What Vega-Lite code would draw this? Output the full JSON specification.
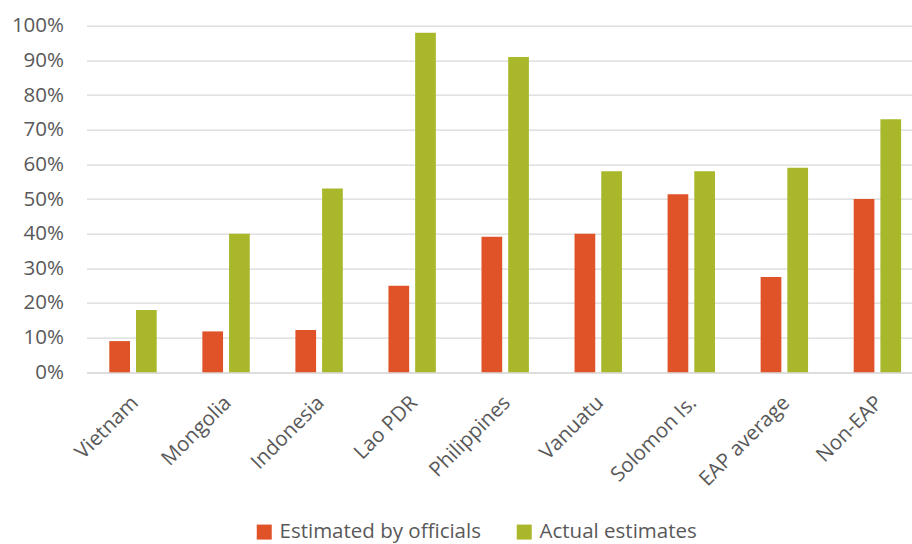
{
  "$schema": "https://vega.github.io/schema/vega-lite/v6.json",
  "width": 825.5,
  "height": 346.6,
  "autosize": {"type": "none"},
  "padding": {"left": 86.5, "top": 25.7, "right": 0, "bottom": 171.7},
  "background": "white",
  "config": {
    "view": {"stroke": null},
    "font": "Open Sans"
  },
  "data": {
    "values": [
      {"country": "Vietnam", "series": "Estimated by officials", "share": 0.09},
      {"country": "Vietnam", "series": "Actual estimates", "share": 0.18},
      {"country": "Mongolia", "series": "Estimated by officials", "share": 0.118},
      {"country": "Mongolia", "series": "Actual estimates", "share": 0.40},
      {"country": "Indonesia", "series": "Estimated by officials", "share": 0.122},
      {"country": "Indonesia", "series": "Actual estimates", "share": 0.53},
      {"country": "Lao PDR", "series": "Estimated by officials", "share": 0.25},
      {"country": "Lao PDR", "series": "Actual estimates", "share": 0.98},
      {"country": "Philippines", "series": "Estimated by officials", "share": 0.391},
      {"country": "Philippines", "series": "Actual estimates", "share": 0.91},
      {"country": "Vanuatu", "series": "Estimated by officials", "share": 0.40},
      {"country": "Vanuatu", "series": "Actual estimates", "share": 0.58},
      {"country": "Solomon Is.", "series": "Estimated by officials", "share": 0.514},
      {"country": "Solomon Is.", "series": "Actual estimates", "share": 0.58},
      {"country": "EAP average", "series": "Estimated by officials", "share": 0.275},
      {"country": "EAP average", "series": "Actual estimates", "share": 0.59},
      {"country": "Non-EAP", "series": "Estimated by officials", "share": 0.50},
      {"country": "Non-EAP", "series": "Actual estimates", "share": 0.73}
    ]
  },
  "mark": {"type": "bar"},
  "encoding": {
    "x": {
      "field": "country",
      "type": "nominal",
      "sort": null,
      "title": null,
      "scale": {"range": [0, 837.4], "paddingInner": 0.4905, "paddingOuter": 0.245},
      "axis": {
        "labelAngle": -45,
        "labelFontSize": 20.5,
        "labelColor": "#595959",
        "labelPadding": 20,
        "labelOffset": -5,
        "labelLimit": 300,
        "ticks": false,
        "tickSize": 0,
        "domainColor": "#D9D9D9",
        "domainWidth": 1.3,
        "grid": false
      }
    },
    "xOffset": {
      "field": "series",
      "type": "nominal",
      "sort": ["Estimated by officials", "Actual estimates"],
      "scale": {"paddingInner": 0.225, "paddingOuter": 0}
    },
    "y": {
      "field": "share",
      "type": "quantitative",
      "title": null,
      "scale": {"domain": [0, 1], "nice": false},
      "axis": {
        "format": ".0%",
        "values": [0, 0.1, 0.2, 0.3, 0.4, 0.5, 0.6, 0.7, 0.8, 0.9, 1.0],
        "labelFontSize": 20.5,
        "labelColor": "#595959",
        "labelPadding": 23,
        "ticks": false,
        "tickSize": 0,
        "domain": false,
        "gridColor": "#D9D9D9",
        "gridWidth": 1.3
      }
    },
    "color": {
      "field": "series",
      "type": "nominal",
      "sort": ["Estimated by officials", "Actual estimates"],
      "scale": {
        "domain": ["Estimated by officials", "Actual estimates"],
        "range": ["#E05227", "#A8B82A"]
      },
      "legend": {
        "title": null,
        "orient": "none",
        "direction": "horizontal",
        "legendX": 167.5,
        "legendY": 496,
        "symbolType": "square",
        "symbolSize": 225,
        "symbolStrokeWidth": 0,
        "labelFontSize": 20.5,
        "labelColor": "#595959",
        "labelOffset": 5,
        "labelLimit": 400,
        "columnPadding": 33
      }
    }
  }
}
